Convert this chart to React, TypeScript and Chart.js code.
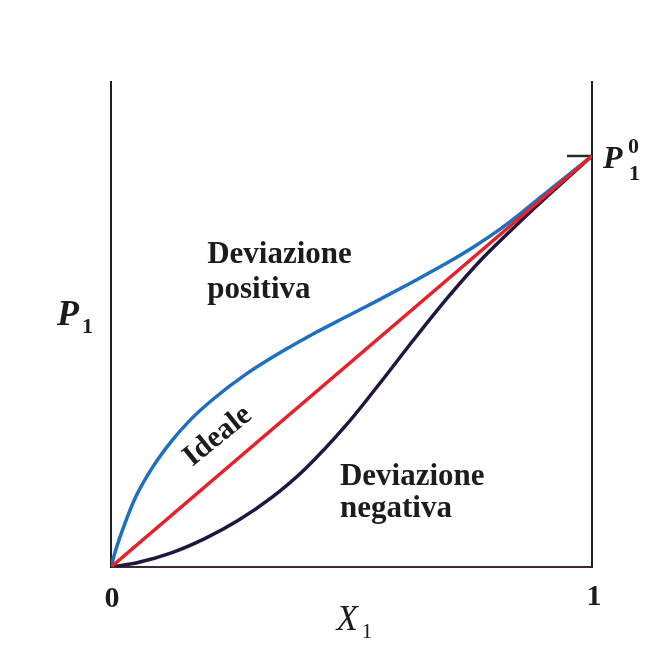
import React, { useEffect, useRef } from "react";
import { Chart, registerables } from "chart.js";

Chart.register(...registerables);

// Ideal (Raoult) line
const X_IDEAL = [0, 1];
const P_IDEAL = [0, 1];

// Positive deviation
const X_POS = [0, 0.010, 0.027, 0.052, 0.085, 0.125, 0.165, 0.214, 0.283, 0.351, 0.420, 0.491, 0.559, 0.628, 0.699, 0.753, 0.809, 0.844, 0.892, 1];
const P_POS = [0, 0.042, 0.100, 0.172, 0.240, 0.305, 0.358, 0.410, 0.471, 0.521, 0.567, 0.610, 0.651, 0.694, 0.740, 0.778, 0.822, 0.853, 0.899, 1];

// Negative deviation
const X_NEG = [0, 0.056, 0.127, 0.195, 0.264, 0.335, 0.403, 0.491, 0.559, 0.628, 0.699, 0.770, 0.836, 0.870, 1];
const P_NEG = [0, 0.011, 0.035, 0.069, 0.113, 0.170, 0.238, 0.348, 0.447, 0.551, 0.654, 0.748, 0.824, 0.862, 1];

// Short mark at P1^0 on the right axis
const X_P0_MARK = [0.948, 1];
const P_P0_MARK = [1, 1];

// Tick labels on the X1 axis
const X_TICKS = [0, 1];

const TEXT_POS = ["Deviazione", "positiva"];
const TEXT_NEG = ["Deviazione", "negativa"];
const TEXT_IDEAL = "Ideale";

const zip = (xs: number[], ys: number[]) => xs.map((x, i) => ({ x, y: ys[i] }));

const SERIF = '"Liberation Serif", "DejaVu Serif", serif';

const annotations = {
  id: "annotations",
  afterDraw(chart: any) {
    const { ctx, chartArea } = chart;
    const xs = chart.scales.x;
    const ys = chart.scales.y;
    const px = (v: number) => xs.getPixelForValue(v);
    const py = (v: number) => ys.getPixelForValue(v);
    ctx.save();
    ctx.fillStyle = "#1c1c1c";
    ctx.textBaseline = "alphabetic";
    ctx.textAlign = "left";

    // region labels
    ctx.font = `bold 31px ${SERIF}`;
    ctx.fillText(TEXT_POS[0], px(0.2), py(0.74));
    ctx.fillText(TEXT_POS[1], px(0.2), py(0.655));
    ctx.fillText(TEXT_NEG[0], px(0.476), py(0.2));
    ctx.fillText(TEXT_NEG[1], px(0.476), py(0.122));

    // rotated "Ideale"
    ctx.save();
    ctx.translate(px(0.222), py(0.318));
    ctx.rotate((-39 * Math.PI) / 180);
    ctx.textAlign = "center";
    ctx.textBaseline = "middle";
    ctx.font = `bold 30px ${SERIF}`;
    ctx.fillText(TEXT_IDEAL, 0, 0);
    ctx.restore();

    // x tick labels
    ctx.font = `bold 30px ${SERIF}`;
    ctx.textAlign = "center";
    ctx.fillText(String(X_TICKS[0]), px(X_TICKS[0]) + 1, chartArea.bottom + 40);
    ctx.fillText(String(X_TICKS[1]), px(X_TICKS[1]) + 2, chartArea.bottom + 38);

    // X1 axis title
    const xc = (chartArea.left + chartArea.right) / 2;
    ctx.textAlign = "left";
    ctx.font = `italic 35px ${SERIF}`;
    ctx.fillText("X", xc - 15, chartArea.bottom + 63);
    ctx.font = `22px ${SERIF}`;
    ctx.fillText("1", xc + 10, chartArea.bottom + 71);

    // P1 axis title (left)
    ctx.font = `bold italic 36px ${SERIF}`;
    ctx.fillText("P", chartArea.left - 54, py(0.589));
    ctx.font = `bold 22px ${SERIF}`;
    ctx.fillText("1", chartArea.left - 29, py(0.569));

    // P1^0 label (right)
    ctx.font = `bold italic 32px ${SERIF}`;
    ctx.fillText("P", chartArea.right + 11, py(1) + 12);
    ctx.font = `bold 22px ${SERIF}`;
    ctx.fillText("0", chartArea.right + 36, py(1) - 3);
    ctx.fillText("1", chartArea.right + 37, py(1) + 24);

    ctx.restore();
  },
};

export default function App() {
  const ref = useRef<HTMLCanvasElement | null>(null);

  useEffect(() => {
    if (!ref.current) return;
    const chart = new Chart(ref.current, {
      type: "line",
      data: {
        datasets: [
          {
            label: "Ideale",
            data: zip(X_IDEAL, P_IDEAL),
            borderColor: "#e8202a",
            borderWidth: 3.5,
            pointRadius: 0,
            tension: 0,
          },
          {
            label: "Deviazione positiva",
            data: zip(X_POS, P_POS),
            borderColor: "#1f6fbf",
            borderWidth: 3.5,
            pointRadius: 0,
            cubicInterpolationMode: "monotone",
          },
          {
            label: "Deviazione negativa",
            data: zip(X_NEG, P_NEG),
            borderColor: "#22163f",
            borderWidth: 3.5,
            pointRadius: 0,
            cubicInterpolationMode: "monotone",
          },
          {
            label: "P1^0",
            data: zip(X_P0_MARK, P_P0_MARK),
            borderColor: "#2a2a2a",
            borderWidth: 2.5,
            pointRadius: 0,
          },
        ],
      },
      options: {
        responsive: false,
        animation: false,
        layout: { padding: { left: 111, right: 69, top: 82, bottom: 95 } },
        plugins: {
          legend: { display: false },
          tooltip: { enabled: false },
          title: { display: false },
        },
        scales: {
          x: {
            type: "linear",
            min: 0,
            max: 1,
            ticks: { display: false },
            grid: { display: false, drawTicks: false, tickLength: 0 },
            border: { display: true, color: "#3a2a33", width: 2 },
          },
          y: {
            type: "linear",
            position: "left",
            min: 0,
            max: 1.18,
            ticks: { display: false },
            grid: { display: false, drawTicks: false, tickLength: 0 },
            border: { display: true, color: "#1e1e1e", width: 2 },
          },
          yRight: {
            type: "linear",
            position: "right",
            min: 0,
            max: 1.18,
            ticks: { display: false },
            grid: { display: false, drawTicks: false, tickLength: 0 },
            border: { display: true, color: "#222222", width: 2 },
          },
        },
      },
      plugins: [annotations],
    });
    return () => chart.destroy();
  }, []);

  return (
    <div style={{ position: "absolute", left: 0, top: 0, width: 661, height: 662, background: "#ffffff" }}>
      <canvas ref={ref} width={661} height={662} />
    </div>
  );
}
